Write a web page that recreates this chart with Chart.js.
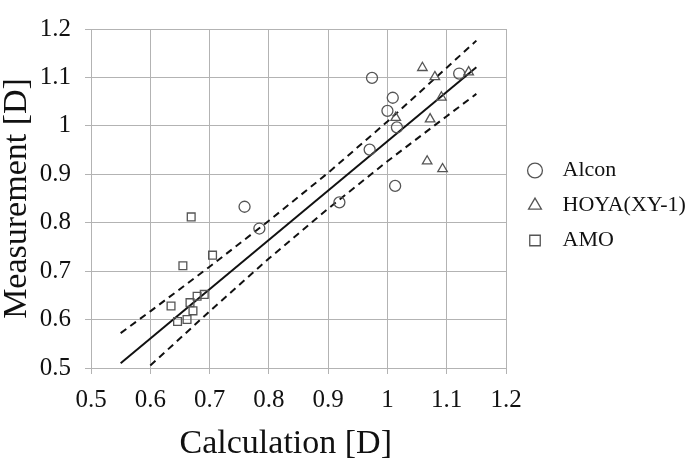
<!DOCTYPE html>
<html>
<head>
<meta charset="utf-8">
<script src="https://cdn.jsdelivr.net/npm/chart.js@4.4.1/dist/chart.umd.min.js"></script>
<style>
  body { margin: 0; background: #fff; }
  #wrap { width: 691px; height: 464px; }
</style>
</head>
<body>
<div id="wrap"><canvas id="graph-iol" width="691" height="464"></canvas></div>
<script>
// values
var alconX = [0.759, 0.784, 0.919, 0.970, 0.974, 1.000, 1.009, 1.013, 1.016, 1.121];
var alconY = [0.833, 0.788, 0.842, 0.951, 1.099, 1.031, 1.058, 0.876, 0.997, 1.108];

var hoyaX = [1.014, 1.059, 1.067, 1.072, 1.080, 1.091, 1.093, 1.137];
var hoyaY = [1.017, 1.120, 0.927, 1.014, 1.101, 1.059, 0.911, 1.111];

var amoX = [0.635, 0.646, 0.655, 0.662, 0.667, 0.669, 0.672, 0.679, 0.691, 0.705];
var amoY = [0.628, 0.596, 0.711, 0.600, 0.635, 0.812, 0.618, 0.648, 0.652, 0.733];

// regression line and the dashed band around it
var fitX = [0.55, 1.15];
var fitY = [0.510, 1.121];
var upperX = [0.55, 0.6, 0.7, 0.8, 0.9, 1.0, 1.1, 1.15];
var upperY = [0.572, 0.617, 0.709, 0.804, 0.903, 1.009, 1.120, 1.176];
var lowerX = [0.6, 0.7, 0.8, 0.9, 1.0, 1.1, 1.15];
var lowerY = [0.505, 0.617, 0.726, 0.829, 0.927, 1.020, 1.066];

var xTickLabels = ["0.5", "0.6", "0.7", "0.8", "0.9", "1", "1.1", "1.2"];
var yTickLabels = ["0.5", "0.6", "0.7", "0.8", "0.9", "1", "1.1", "1.2"];

function toPoints(xs, ys) {
    return xs.map(function (x, i) { return { x: x, y: ys[i] }; });
}

var serif = "'Liberation Serif', 'Times New Roman', serif";
var markColor = "#555555";
var gridColor = "#b3b3b3";

function markerSet(label, xs, ys, style) {
    return {
        label: label,
        data: toPoints(xs, ys),
        pointStyle: style,
        pointRadius: 5.5,
        pointHoverRadius: 5.5,
        pointBorderWidth: 1.3,
        pointBorderColor: markColor,
        pointBackgroundColor: "rgba(255,255,255,0)",
        borderColor: markColor,
        backgroundColor: "rgba(255,255,255,0)",
        borderWidth: 1.3,
        showLine: false
    };
}

function lineSet(label, xs, ys, dash) {
    return {
        label: label,
        data: toPoints(xs, ys),
        showLine: true,
        pointRadius: 0,
        borderColor: "#111",
        borderWidth: 2,
        borderDash: dash,
        tension: 0,
        fill: false
    };
}

new Chart("graph-iol", {
    type: "scatter",
    data: {
        datasets: [
            markerSet("Alcon", alconX, alconY, "circle"),
            markerSet("HOYA(XY-1)", hoyaX, hoyaY, "triangle"),
            markerSet("AMO", amoX, amoY, "rect"),
            lineSet("fit", fitX, fitY, []),
            lineSet("upper", upperX, upperY, [7, 5]),
            lineSet("lower", lowerX, lowerY, [7, 5])
        ]
    },
    options: {
        responsive: false,
        animation: false,
        layout: { padding: { top: 10, left: 0, right: 0, bottom: 0 } },
        plugins: {
            tooltip: { enabled: false },
            legend: {
                position: "right",
                fullSize: false,
                maxWidth: 180,
                title: { display: true, text: " ", font: { size: 10 }, padding: 1 },
                labels: {
                    font: { family: serif, size: 22 },
                    color: "#111",
                    usePointStyle: true,
                    boxWidth: 22,
                    boxHeight: 10.5,
                    padding: 13,
                    generateLabels: function (chart) {
                        var items = Chart.defaults.plugins.legend.labels.generateLabels(chart);
                        return items.filter(function (it) { return it.datasetIndex < 3; })
                            .map(function (it) { it.text = " " + it.text; return it; });
                    }
                }
            }
        },
        scales: {
            x: {
                type: "linear",
                min: 0.5,
                max: 1.2,
                afterFit: function (s) { s.height = 96; },
                ticks: {
                    stepSize: 0.1,
                    padding: 11,
                    color: "#111",
                    font: { family: serif, size: 25 },
                    callback: function (v, i) { return xTickLabels[i]; }
                },
                grid: { color: gridColor, lineWidth: 1, tickLength: 6, tickColor: gridColor },
                border: { color: gridColor },
                title: {
                    display: true,
                    text: "Calculation [D]   ",
                    color: "#111",
                    font: { family: serif, size: 34 },
                    padding: { top: 0, bottom: 0 }
                }
            },
            y: {
                type: "linear",
                min: 0.5,
                max: 1.2,
                afterFit: function (s) { s.width = 91; },
                ticks: {
                    stepSize: 0.1,
                    padding: 14,
                    color: "#111",
                    font: { family: serif, size: 25 },
                    callback: function (v, i) { return yTickLabels[i]; }
                },
                grid: { color: gridColor, lineWidth: 1, tickLength: 6, tickColor: gridColor },
                border: { color: gridColor },
                title: {
                    display: true,
                    text: "Measurement [D]",
                    color: "#111",
                    font: { family: serif, size: 34, lineHeight: 1 },
                    padding: { top: 0, bottom: 0 }
                }
            },
            yGap: {
                type: "linear",
                position: "right",
                display: true,
                afterFit: function (s) { s.width = 5; },
                ticks: { display: false },
                grid: { display: false, drawTicks: false },
                border: { display: false }
            }
        }
    }
});
</script>
</body>
</html>
